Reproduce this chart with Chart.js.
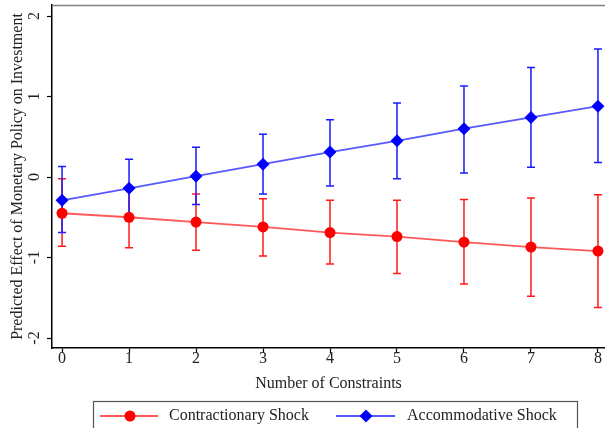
<!DOCTYPE html>
<html>
<head>
<meta charset="utf-8">
<script src="https://cdn.jsdelivr.net/npm/chart.js@4/dist/chart.umd.min.js"></script>
<style>
  html, body { margin: 0; padding: 0; background: #fff; }
  #wrap { position: relative; width: 605px; height: 428px; }
</style>
</head>
<body>
<div id="wrap"><canvas id="c" width="605" height="428"></canvas></div>
<script>
// ---- data ----
const categories = [0, 1, 2, 3, 4, 5, 6, 7, 8];
const contractValues = [-0.45, -0.50, -0.56, -0.62, -0.69, -0.74, -0.81, -0.87, -0.92];
const contractLower  = [-0.86, -0.88, -0.91, -0.98, -1.08, -1.20, -1.33, -1.48, -1.62];
const contractUpper  = [-0.02, -0.12, -0.21, -0.27, -0.29, -0.29, -0.28, -0.26, -0.22];
const accomValues = [-0.29, -0.14, 0.01, 0.16, 0.31, 0.45, 0.60, 0.74, 0.88];
const accomLower  = [-0.69, -0.50, -0.34, -0.21, -0.11, -0.02, 0.05, 0.12, 0.18];
const accomUpper  = [0.13, 0.22, 0.37, 0.53, 0.71, 0.92, 1.13, 1.36, 1.59];
const xTicks = [0, 1, 2, 3, 4, 5, 6, 7, 8];
const yTicks = [-2, -1, 0, 1, 2];
const seriesNames = ['Contractionary Shock', 'Accommodative Shock'];
const xTitle = 'Number of Constraints';
const yTitle = 'Predicted Effect of Monetary Policy on Investment';

const FONT = '"Liberation Serif", "Times New Roman", serif';
const FS = 16;
const TXT = '#222';

const errorBars = [
  { lower: contractLower, upper: contractUpper, color: '#ff1a1a' },
  { lower: accomLower, upper: accomUpper, color: '#1a1aff' }
];

const errorBarPlugin = {
  id: 'errorBars',
  beforeDatasetsDraw(chart) {
    const ctx = chart.ctx, xs = chart.scales.x, ys = chart.scales.y;
    ctx.save();
    errorBars.forEach(eb => {
      ctx.strokeStyle = eb.color;
      ctx.lineWidth = 1.5;
      categories.forEach((c, i) => {
        const px = xs.getPixelForValue(c);
        const y1 = ys.getPixelForValue(eb.lower[i]);
        const y2 = ys.getPixelForValue(eb.upper[i]);
        ctx.beginPath();
        ctx.moveTo(px, y1); ctx.lineTo(px, y2);
        ctx.moveTo(px - 4, y1); ctx.lineTo(px + 4, y1);
        ctx.moveTo(px - 4, y2); ctx.lineTo(px + 4, y2);
        ctx.stroke();
      });
    });
    ctx.restore();
  }
};

const framePlugin = {
  id: 'frame',
  afterDraw(chart) {
    const ctx = chart.ctx, a = chart.chartArea, ys = chart.scales.y, xs = chart.scales.x;
    ctx.save();
    // top border
    ctx.strokeStyle = '#808080';
    ctx.lineWidth = 1.5;
    ctx.beginPath();
    ctx.moveTo(a.left, a.top + 0.5); ctx.lineTo(chart.width, a.top + 0.5);
    ctx.stroke();
    // rotated y tick labels
    ctx.fillStyle = TXT;
    ctx.font = FS + 'px ' + FONT;
    ctx.textAlign = 'center';
    ctx.textBaseline = 'middle';
    yTicks.forEach(v => {
      const py = ys.getPixelForValue(v);
      ctx.save();
      ctx.translate(35, py);
      ctx.rotate(-Math.PI / 2);
      ctx.fillText(String(v), 0, 0);
      ctx.restore();
    });
    // x tick labels
    xTicks.forEach(v => {
      ctx.fillText(String(v), xs.getPixelForValue(v), a.bottom + 11);
    });
    // legend
    const bx = 93, by = 401, bw = 484, bh = 40;
    ctx.strokeStyle = '#555';
    ctx.lineWidth = 1.2;
    ctx.strokeRect(bx + 0.5, by + 0.5, bw, bh);
    const items = [
      { x0: 100, x1: 158, mx: 130, tx: 169, ds: chart.data.datasets[0] },
      { x0: 336, x1: 395, mx: 366, tx: 407, ds: chart.data.datasets[1] }
    ];
    const ly = 416;
    items.forEach(it => {
      ctx.strokeStyle = it.ds.borderColor;
      ctx.lineWidth = 1.8;
      ctx.beginPath(); ctx.moveTo(it.x0, ly); ctx.lineTo(it.x1, ly); ctx.stroke();
      ctx.fillStyle = it.ds.pointBackgroundColor;
      ctx.beginPath();
      if (it.ds.pointStyle === 'rectRot') {
        const r = it.ds.pointRadius;
        ctx.moveTo(it.mx, ly - r); ctx.lineTo(it.mx + r, ly);
        ctx.lineTo(it.mx, ly + r); ctx.lineTo(it.mx - r, ly);
        ctx.closePath();
      } else {
        ctx.arc(it.mx, ly, it.ds.pointRadius, 0, Math.PI * 2);
      }
      ctx.fill();
      ctx.fillStyle = TXT;
      ctx.textAlign = 'left';
      ctx.textBaseline = 'middle';
      ctx.fillText(it.ds.label, it.tx, ly);
    });
    ctx.restore();
  }
};

new Chart(document.getElementById('c'), {
  type: 'line',
  data: {
    datasets: [
      {
        label: seriesNames[0],
        data: categories.map((c, i) => ({ x: c, y: contractValues[i] })),
        borderColor: 'rgba(255,70,70,0.9)',
        borderWidth: 1.8,
        pointStyle: 'circle',
        pointRadius: 5.5,
        pointBackgroundColor: '#ff0000',
        pointBorderWidth: 0,
        fill: false,
        tension: 0
      },
      {
        label: seriesNames[1],
        data: categories.map((c, i) => ({ x: c, y: accomValues[i] })),
        borderColor: 'rgba(70,70,255,0.9)',
        borderWidth: 1.8,
        pointStyle: 'rectRot',
        pointRadius: 6.5,
        pointBackgroundColor: '#0000ff',
        pointBorderWidth: 0,
        fill: false,
        tension: 0
      }
    ]
  },
  options: {
    responsive: false,
    animation: false,
    devicePixelRatio: 1,
    layout: { autoPadding: false, padding: { top: 5, right: 0, left: 0, bottom: 35 } },
    plugins: { legend: { display: false }, tooltip: { enabled: false } },
    scales: {
      x: {
        type: 'linear',
        min: -0.15,
        max: 8.105,
        afterBuildTicks: s => { s.ticks = xTicks.map(v => ({ value: v })); },
        afterFit: s => { s.height = 45; },
        grid: { drawOnChartArea: false, drawTicks: true, tickLength: 5, color: '#000', tickWidth: 1.2 },
        border: { display: true, color: '#000', width: 1.5 },
        ticks: { display: false },
        title: { display: true, text: xTitle, color: TXT, font: { family: FONT, size: FS }, padding: { top: 0, bottom: 0 } }
      },
      y: {
        type: 'linear',
        min: -2.124,
        max: 2.137,
        afterBuildTicks: s => { s.ticks = yTicks.map(v => ({ value: v })); },
        afterFit: s => { s.width = 52; },
        grid: { drawOnChartArea: false, drawTicks: true, tickLength: 5, color: '#000', tickWidth: 1.2 },
        border: { display: true, color: '#000', width: 1.5 },
        ticks: { display: false },
        title: { display: true, text: yTitle, color: TXT, font: { family: FONT, size: FS }, padding: { top: 8, bottom: 0 } }
      }
    }
  },
  plugins: [errorBarPlugin, framePlugin]
});
</script>
</body>
</html>
